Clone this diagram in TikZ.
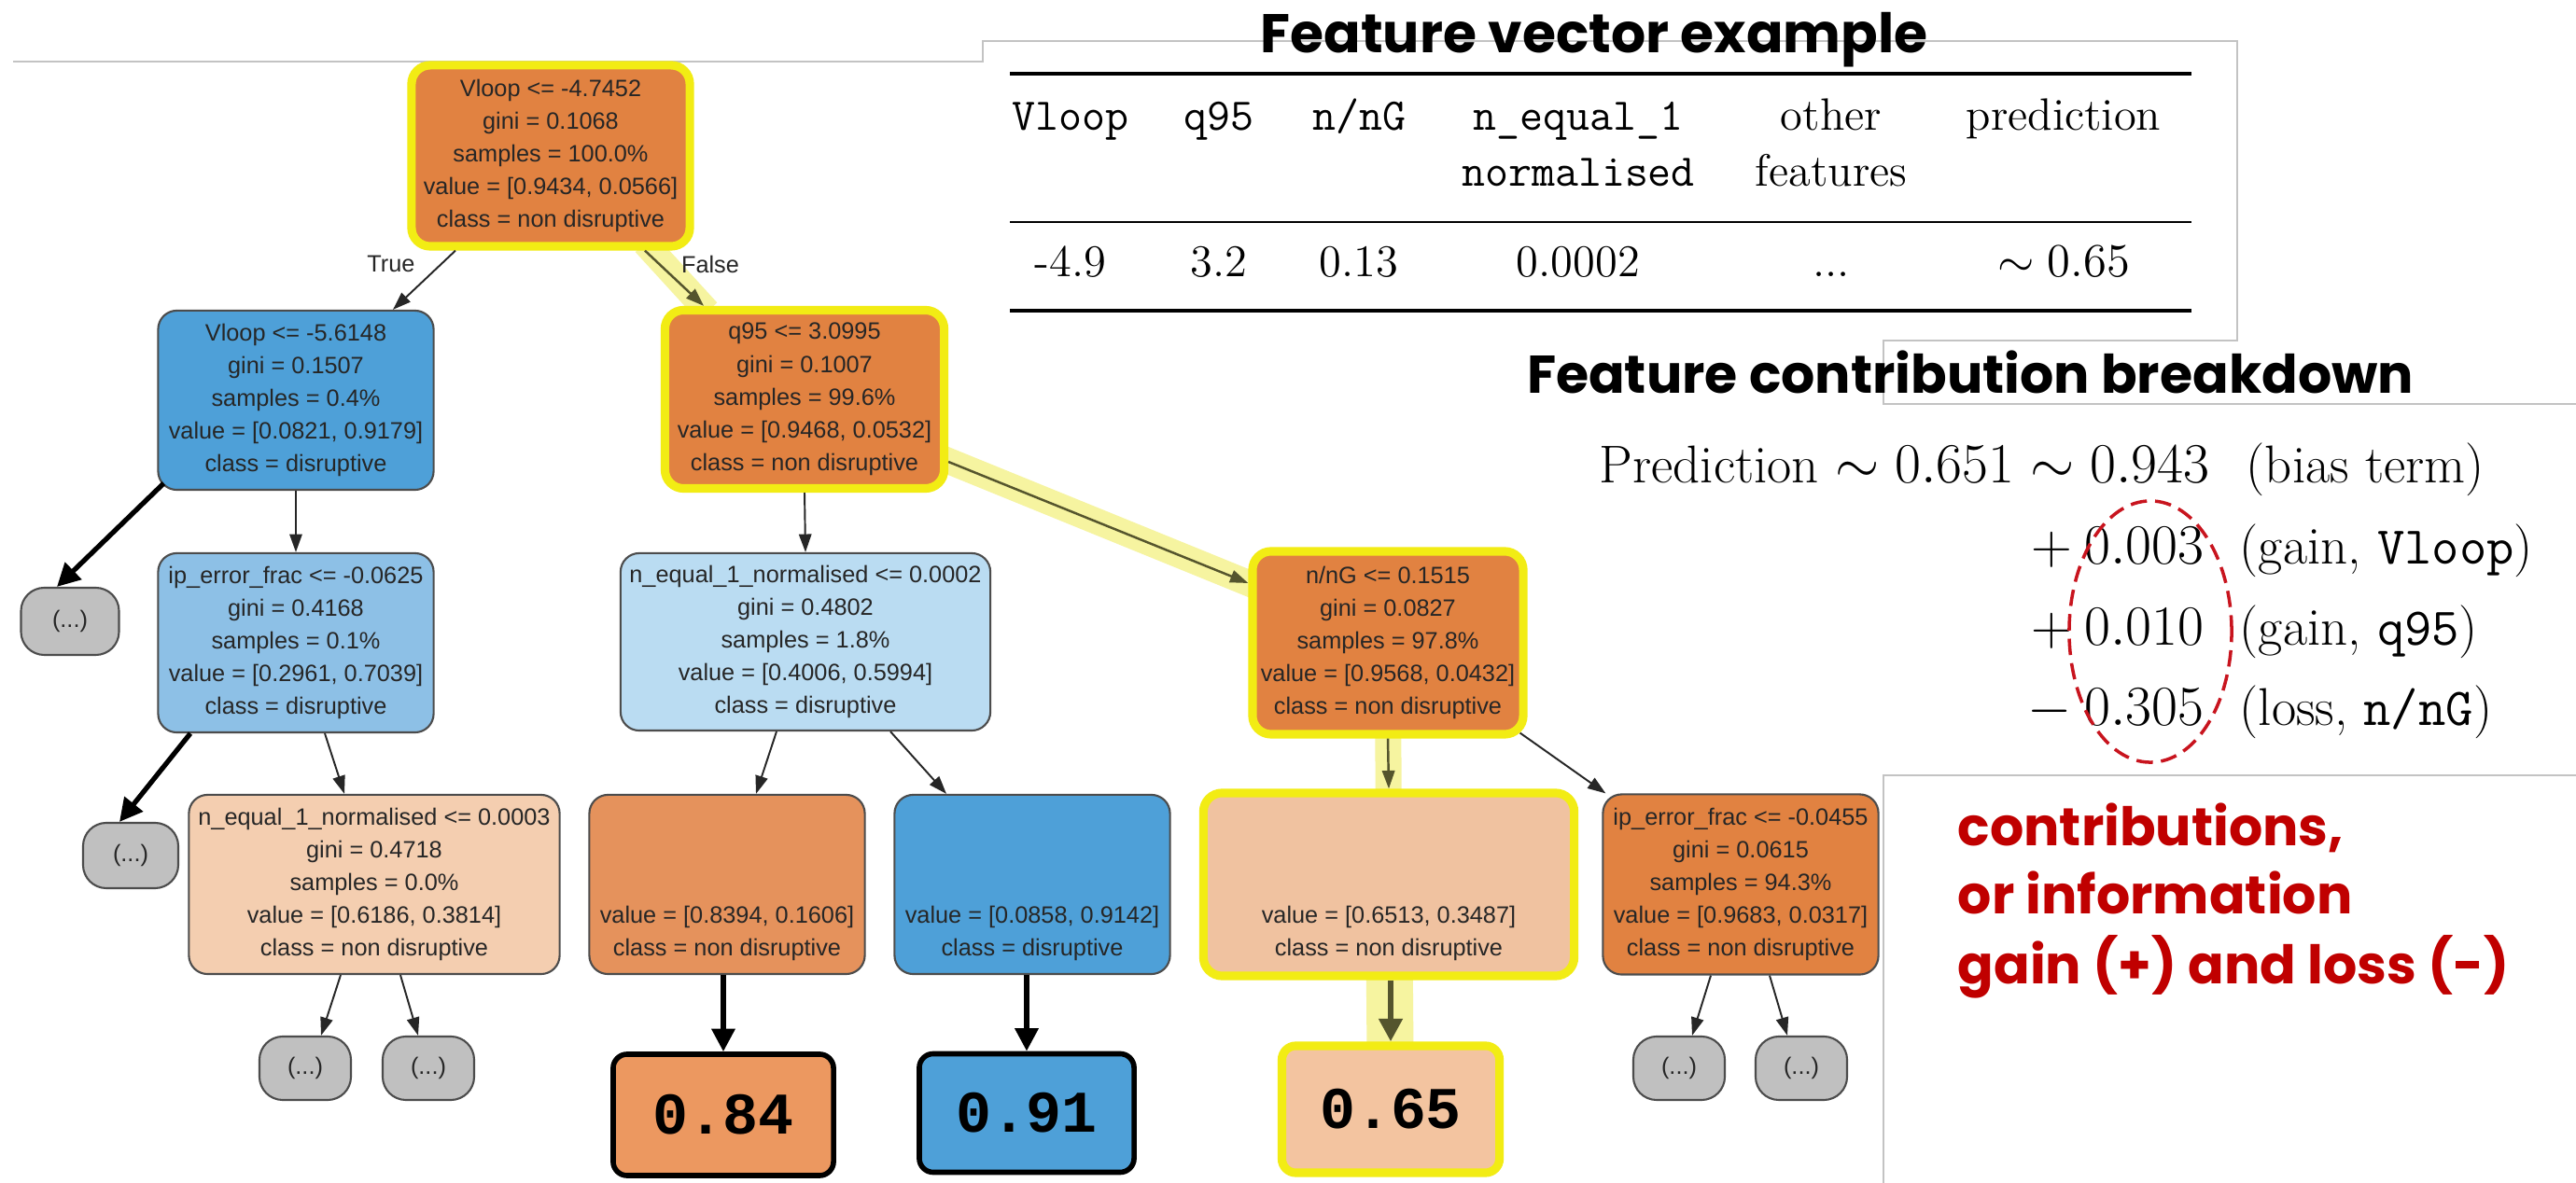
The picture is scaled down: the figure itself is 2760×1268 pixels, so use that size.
\documentclass[tikz,border=0pt]{standalone}
\usepackage{fontspec}
\newfontfamily\treefont{Liberation Sans}
\newfontfamily\titlefont{Poppins}
\newfontfamily\valfont{Liberation Mono}
\usetikzlibrary{arrows.meta,calc,backgrounds}
\definecolor{orA}{RGB}{225,130,65}
\definecolor{orB}{RGB}{229,146,92}
\definecolor{orBox}{RGB}{236,152,96}
\definecolor{peA}{RGB}{244,206,176}
\definecolor{peB}{RGB}{240,194,160}
\definecolor{peBox}{RGB}{243,196,160}
\definecolor{blA}{RGB}{78,160,216}
\definecolor{blB}{RGB}{141,192,230}
\definecolor{blC}{RGB}{186,220,242}
\definecolor{grN}{RGB}{192,192,192}
\definecolor{hlY}{RGB}{242,236,20}
\definecolor{bandY}{RGB}{246,244,160}
\definecolor{hlArrow}{RGB}{85,85,45}
\definecolor{redT}{RGB}{192,0,0}
\definecolor{redE}{RGB}{200,20,30}
\definecolor{slideLine}{RGB}{195,195,195}
\begin{document}
\begin{tikzpicture}[x=0.01cm,y=-0.01cm,
  tn/.style={rounded corners=0.2cm, draw=black!70, line width=0.6pt, align=center, inner sep=0pt, text=black!85, font=\treefont\fontsize{7.2}{10}\selectfont},
  hl/.style={draw=hlY, line width=2.6pt},
  dots/.style={tn, fill=grN, rounded corners=0.25cm},
  vbox/.style={rounded corners=0.15cm, draw=black, line width=1.6pt, inner sep=0pt, font=\valfont\bfseries\fontsize{18}{20}\selectfont},
  ar/.style={-{Triangle[length=5.5pt,width=3.8pt]}, line width=0.55pt, draw=black!85},
  tk/.style={-{Triangle[length=7pt,width=7pt]}, line width=1.5pt, draw=black},
  hla/.style={-{Triangle[length=5.5pt,width=3.8pt]}, line width=0.7pt, draw=hlArrow},
  hlk/.style={-{Triangle[length=7pt,width=7pt]}, line width=1.8pt, draw=hlArrow},
  band/.style={line width=0.28cm, draw=bandY},
  bandw/.style={line width=0.5cm, draw=bandY},
  tb/.style={anchor=base, inner sep=0pt, font=\fontsize{13.8}{16}\selectfont},
  fm/.style={inner sep=0pt, font=\fontsize{16.2}{19}\selectfont},
  ttl/.style={anchor=base, inner sep=0pt, font=\titlefont\bfseries\fontsize{16.6}{20}\selectfont},
  rd/.style={anchor=base west, inner sep=0pt, text=redT, font=\titlefont\bfseries\fontsize{16.2}{20}\selectfont},
  lbl/.style={inner sep=0pt, text=black!85, font=\treefont\fontsize{7.2}{9}\selectfont}
]
\useasboundingbox (0,0) rectangle (2760,1268);

% slide outlines
\draw[slideLine, line width=0.6pt] (14,66) -- (1053,66) -- (1053,44) -- (2397,44) -- (2397,365) -- (2018,365) -- (2018,433) -- (2760,433);
\draw[slideLine, line width=0.6pt] (2760,831) -- (2018,831) -- (2018,1268);

% tree nodes
\node[tn, fill=orA, hl, minimum width=2.98cm, minimum height=1.94cm] (root) at (590,167)
  {Vloop <= -4.7452\\gini = 0.1068\\samples = 100.0\%\\value = [0.9434, 0.0566]\\class = non disruptive};
\node[tn, fill=blA, minimum width=2.95cm, minimum height=1.92cm] (vl2) at (317,429)
  {Vloop <= -5.6148\\gini = 0.1507\\samples = 0.4\%\\value = [0.0821, 0.9179]\\class = disruptive};
\node[tn, fill=orA, hl, minimum width=2.99cm, minimum height=1.91cm] (q95) at (862,428)
  {q95 <= 3.0995\\gini = 0.1007\\samples = 99.6\%\\value = [0.9468, 0.0532]\\class = non disruptive};
\node[tn, fill=blB, minimum width=2.95cm, minimum height=1.92cm] (ip1) at (317,689)
  {ip\_error\_frac <= -0.0625\\gini = 0.4168\\samples = 0.1\%\\value = [0.2961, 0.7039]\\class = disruptive};
\node[tn, fill=blC, minimum width=3.96cm, minimum height=1.90cm] (ne2) at (863,688)
  {n\_equal\_1\_normalised <= 0.0002\\gini = 0.4802\\samples = 1.8\%\\value = [0.4006, 0.5994]\\class = disruptive};
\node[tn, fill=orA, hl, minimum width=2.90cm, minimum height=1.96cm] (nng) at (1487,689)
  {n/nG <= 0.1515\\gini = 0.0827\\samples = 97.8\%\\value = [0.9568, 0.0432]\\class = non disruptive};
\node[tn, fill=peA, minimum width=3.97cm, minimum height=1.92cm] (ne3) at (401,948)
  {n\_equal\_1\_normalised <= 0.0003\\gini = 0.4718\\samples = 0.0\%\\value = [0.6186, 0.3814]\\class = non disruptive};
\node[tn, fill=orB, minimum width=2.95cm, minimum height=1.92cm] (lo) at (779,948)
  {\vphantom{Vl}\\\mbox{}\\\mbox{}\\value = [0.8394, 0.1606]\\class = non disruptive};
\node[tn, fill=blA, minimum width=2.95cm, minimum height=1.92cm] (lb) at (1106,948)
  {\vphantom{Vl}\\\mbox{}\\\mbox{}\\value = [0.0858, 0.9142]\\class = disruptive};
\node[tn, fill=peB, hl, minimum width=3.97cm, minimum height=1.96cm] (lp) at (1488,948)
  {\vphantom{Vl}\\\mbox{}\\\mbox{}\\value = [0.6513, 0.3487]\\class = non disruptive};
\node[tn, fill=orA, minimum width=2.95cm, minimum height=1.93cm] (ip2) at (1865,948)
  {ip\_error\_frac <= -0.0455\\gini = 0.0615\\samples = 94.3\%\\value = [0.9683, 0.0317]\\class = non disruptive};

\node[dots, minimum width=1.05cm, minimum height=0.72cm] (d1) at (75,666) {(...)};
\node[dots, minimum width=1.02cm, minimum height=0.70cm] (d2) at (140,917) {(...)};
\node[dots, minimum width=0.98cm, minimum height=0.68cm] (d3) at (327,1145) {(...)};
\node[dots, minimum width=0.98cm, minimum height=0.68cm] (d4) at (459,1145) {(...)};
\node[dots, minimum width=0.98cm, minimum height=0.68cm] (d5) at (1799,1145) {(...)};
\node[dots, minimum width=0.98cm, minimum height=0.68cm] (d6) at (1930,1145) {(...)};

\node[vbox, fill=orBox, minimum width=2.36cm, minimum height=1.30cm] (v84) at (775,1195) {0.84};
\node[vbox, fill=blA, minimum width=2.30cm, minimum height=1.27cm] (v91) at (1100,1193) {0.91};
\node[vbox, fill=peBox, draw=hlY, line width=2.6pt, minimum width=2.33cm, minimum height=1.36cm] (v65) at (1490,1189) {0.65};

% edges
\draw[ar] ($(root.south)+(-102,0)$) -- ($(vl2.north)+(104,0)$);
\draw[hla] ($(root.south)+(101,0)$) -- ($(q95.north)+(-108,0)$);
\node[lbl] (tT) at (419,283) {True};
\node[lbl] (tF) at (761,283) {False};
\draw[tk] ($(vl2.south west)+(7,-8)$) -- ($(d1.north)+(-14,0)$);
\draw[ar] (vl2.south) -- (ip1.north);
\draw[tk] ($(ip1.south)+(-113,0)$) -- ($(d2.north)+(-12,0)$);
\draw[ar] ($(ip1.south)+(31,0)$) -- ($(ne3.north)+(-32,0)$);
\draw[ar] ($(ne3.south)+(-36,0)$) -- ($(d3.north)+(17,0)$);
\draw[ar] ($(ne3.south)+(28,0)$) -- ($(d4.north)+(-11,0)$);
\draw[ar] (q95.south) -- (ne2.north);
\draw[hla] ($(q95.east)+(0,67)$) -- ($(nng.west)+(0,-64)$);
\draw[ar] ($(ne2.south)+(-31,0)$) -- ($(lo.north)+(31,0)$);
\draw[ar] ($(ne2.south)+(91,0)$) -- ($(lb.north)+(-92,0)$);
\draw[hla] (nng.south) -- (lp.north);
\draw[ar] ($(nng.south east)+(-8,-6)$) -- ($(ip2.north west)+(4,0)$);
\draw[ar] ($(ip2.south)+(-32,0)$) -- ($(d5.north)+(14,0)$);
\draw[ar] ($(ip2.south)+(31,0)$) -- ($(d6.north)+(-15,0)$);
\draw[tk] (lo.south -| v84.north) -- (v84.north);
\draw[tk] (lb.south -| v91.north) -- (v91.north);
\draw[hlk] (lp.south -| v65.north) -- (v65.north);

% highlight bands
\begin{scope}[on background layer]
\fill[white] (0,0) rectangle (2760,1268);
\draw[band] ($(root.south)+(101,-8)$) -- ($(q95.north)+(-104,6)$);
\draw[band] ($(q95.east)+(-10,62)$) -- ($(nng.west)+(10,-60)$);
\draw[band] (nng.center) -- (lp.center);
\draw[bandw] (lp.center) -- (v65.center);
\end{scope}

% feature vector table
\node[ttl] (t1) at (1708,57) {Feature vector example};
\draw[line width=1.4pt] (1082,79) -- (2348,79);
\draw[line width=0.7pt] (1082,238) -- (2348,238);
\draw[line width=1.4pt] (1082,333) -- (2348,333);
\node[tb] (h1) at (1147,140) {\texttt{Vloop}};
\node[tb] (h2) at (1306,140) {\texttt{q95}};
\node[tb] (h3) at (1456,140) {\texttt{n/nG}};
\node[tb] (h4a) at (1691,140) {\texttt{n\_equal\_1}};
\node[tb] (h4b) at (1691,200) {\texttt{normalised}};
\node[tb] (h5a) at (1962,140) {other};
\node[tb] (h5b) at (1962,200) {features};
\node[tb] (h6) at (2211,140) {prediction};
\node[tb] (r1) at (1147,297) {-4.9};
\node[tb] (r2) at (1306,297) {3.2};
\node[tb] (r3) at (1456,297) {0.13};
\node[tb] (r4) at (1691,297) {0.0002};
\node[tb] (r5) at (1962,297) {...};
\node[tb] (r6) at (2211,297) {$\sim 0.65$};

% contribution breakdown
\node[ttl, font=\titlefont\bfseries\fontsize{16.2}{20}\selectfont] (t2) at (2111,422) {Feature contribution breakdown};
\node[fm, anchor=base east] (f1a) at (2368,518) {Prediction $\sim 0.651 \sim 0.943$};
\node[fm, anchor=base west] (f1b) at (2406,518) {(bias term)};
\node[fm, anchor=base east] (f2a) at (2362,605) {$+\:0.003$};
\node[fm, anchor=base west] (f2b) at (2399,605) {(gain, \texttt{Vloop})};
\node[fm, anchor=base east] (f3a) at (2362,692) {$+\:0.010$};
\node[fm, anchor=base west] (f3b) at (2399,692) {(gain, \texttt{q95})};
\node[fm, anchor=base east] (f4a) at (2362,778) {$-\:0.305$};
\node[fm, anchor=base west] (f4b) at (2399,778) {(loss, \texttt{n/nG})};
\draw[redE, line width=1pt, dash pattern=on 5pt off 2.5pt] (2304,677) ellipse [x radius=0.87cm, y radius=1.40cm];

\node[rd] (c1) at (2097,907) {contributions,};
\node[rd] (c2) at (2097,980) {or information};
\node[rd] (c3) at (2097,1055) {gain (+) and loss (-)};
\end{tikzpicture}
\end{document}
